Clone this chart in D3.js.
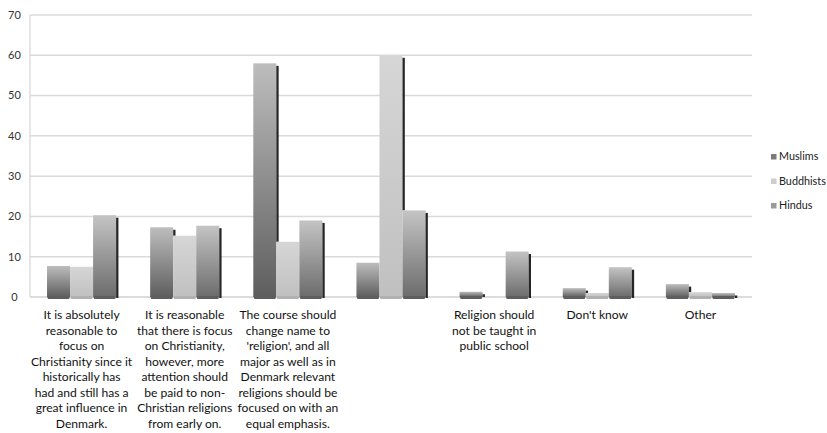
<!DOCTYPE html>
<html><head><meta charset="utf-8">
<script src="https://cdn.jsdelivr.net/npm/d3@7"></script>
<style>
html,body{margin:0;padding:0;background:#fff;}
svg{display:block;font-family:Lato,"Open Sans",sans-serif;}
</style></head>
<body>
<svg id="chart" width="827" height="433"></svg>
<script>
const categories = ["c1","c2","c3","c4","c5","c6","c7"];
const categoryLabels = [
  ["It is absolutely","reasonable to","focus on","Christianity since it","historically has","had and still has a","great influence in","Denmark."],
  ["It is reasonable","that there is focus","on Christianity,","however, more","attention should","be paid to non-","Christian religions","from early on."],
  ["The course should","change name to","'religion', and all","major as well as in","Denmark relevant","religions should be","focused on with an","equal emphasis."],
  [],
  ["Religion should","not be taught in","public school"],
  ["Don't know"],
  ["Other"]
];
const seriesNames = ["Muslims","Buddhists","Hindus"];
const muslims   = [7.7, 17.3, 58.0, 8.5, 1.3, 2.2, 3.2];
const buddhists = [7.5, 15.2, 13.7, 60.0, 0, 1.0, 1.2];
const hindus    = [20.3, 17.7, 19.0, 21.5, 11.3, 7.4, 1.0];
const yTicks = [0,10,20,30,40,50,60,70];

const seriesValues = [muslims, buddhists, hindus];
const grads = [
  {top:"#bdbdbd", bottom:"#5e5e5e", legend:"#7a7a7a"},
  {top:"#d6d6d6", bottom:"#c0c0c0", legend:"#cdcdcd"},
  {top:"#c4c4c4", bottom:"#6c6c6c", legend:"#9a9a9a"}
];

const svg = d3.select("#chart");
const plot = {left:30, right:752, top:15, bottom:297};

const y = d3.scaleLinear().domain([0,70]).range([plot.bottom, plot.top]);
const x0 = d3.scaleBand().domain(categories).range([plot.left, plot.right]).padding(0);
const bw = x0.bandwidth();
const groupW = bw*0.67;
const x1 = d3.scaleBand().domain(seriesNames).range([(bw-groupW)/2, (bw+groupW)/2]).padding(0);

const defs = svg.append("defs");
grads.forEach((g,i)=>{
  const lg = defs.append("linearGradient").attr("id","g"+i)
    .attr("x1",0).attr("y1",0).attr("x2",0).attr("y2",1);
  lg.append("stop").attr("offset","0%").attr("stop-color",g.top);
  lg.append("stop").attr("offset","100%").attr("stop-color",g.bottom);
});

// gridlines
svg.append("g").selectAll("line").data(yTicks).join("line")
  .attr("x1",plot.left).attr("x2",plot.right)
  .attr("y1",d=>y(d)).attr("y2",d=>y(d))
  .attr("stroke",d=>d===0?"#d0d0d0":"#dadada").attr("stroke-width",1.5);
svg.append("line").attr("x1",plot.left).attr("x2",plot.left)
  .attr("y1",plot.top).attr("y2",plot.bottom)
  .attr("stroke","#d6d6d6").attr("stroke-width",1.2);

// y tick labels
svg.append("g").selectAll("text").data(yTicks).join("text")
  .attr("x",14.5).attr("y",d=>y(d)).attr("dy","0.35em")
  .attr("text-anchor","middle").attr("font-size",11).attr("fill","#333")
  .text(d=>d);

// bars
const groups = svg.append("g").selectAll("g").data(categories).join("g")
  .attr("transform",d=>`translate(${x0(d)},0)`);

groups.each(function(cat, ci){
  const g = d3.select(this);
  seriesNames.forEach((s, si)=>{
    const v = seriesValues[si][ci];
    const bx = x1(s), w = x1.bandwidth();
    if (v > 0) {
      g.append("rect").attr("x",bx).attr("y",y(v)).attr("width",w)
        .attr("height",y(0)-y(v)).attr("fill",`url(#g${si})`);
      g.append("rect").attr("x",bx+0.5).attr("y",y(0)-1).attr("width",w-1).attr("height",3)
        .attr("rx",1.2).attr("fill",si===1?"#b0b0b0":"#5e5e5e");
    }
    // dark side face
    const next = si < seriesNames.length-1 ? seriesValues[si+1][ci] : 0;
    if (v > next && v > 0) {
      const topY = y(v) + 2.5;
      const botY = si < seriesNames.length-1 ? y(next) : y(0)+1;
      if (botY > topY) {
        g.append("rect").attr("x",bx+w).attr("y",topY).attr("width",2.3)
          .attr("height",botY-topY).attr("fill","#262626");
      }
    }
  });
});

// category labels
const lab = svg.append("g");
categories.forEach((c,ci)=>{
  const t = lab.append("text").attr("text-anchor","middle")
    .attr("font-size",12.1).attr("fill","#111");
  categoryLabels[ci].forEach((line,li)=>{
    t.append("tspan").attr("x",x0(c)+bw/2).attr("y",319+li*15.5).text(line);
  });
});

// legend
const leg = svg.append("g");
seriesNames.forEach((s,i)=>{
  const cy = 156.5 + i*24.5;
  leg.append("rect").attr("x",771).attr("y",cy-2.5).attr("width",5.5).attr("height",5.5)
    .attr("fill",grads[i].legend);
  leg.append("text").attr("x",779).attr("y",cy).attr("dy","0.35em")
    .attr("font-size",10.8).attr("fill","#222").text(s);
});
</script>
</body></html>
